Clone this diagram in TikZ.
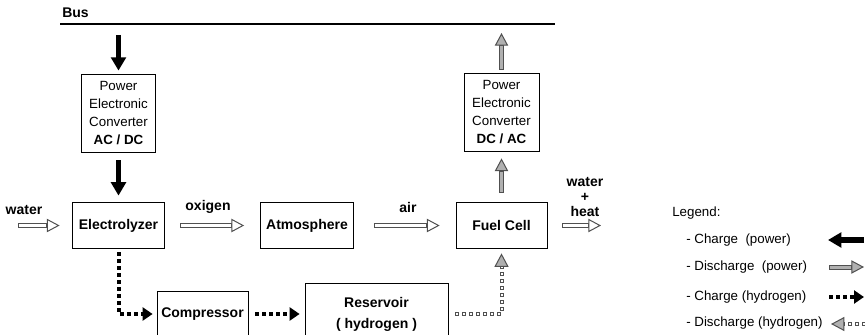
\documentclass[tikz,border=0pt]{standalone}
\usepackage{fontspec}
\setmainfont{Liberation Sans}
\usetikzlibrary{arrows.meta}
\definecolor{grisclaro}{HTML}{B0B0B0}
\definecolor{grisborde}{HTML}{505050}

\begin{document}
\begin{tikzpicture}
  [x=0.75pt,y=-0.75pt,
   caja/.style={draw=black,line width=0.6pt,align=center,inner sep=0pt,
     font=\fontsize{10}{13.5}\selectfont},
   rotulo/.style={font=\fontsize{10.5}{12}\selectfont\bfseries,inner sep=0pt},
   texto/.style={font=\fontsize{10}{12}\selectfont,inner sep=0pt,anchor=west},
   carga/.style={line width=4pt,-{Triangle[width=11pt,length=10pt]}},
   descarga/.style n args={3}{draw=grisborde,line width=3.75pt,
     shorten <=#2,shorten >=#3,
     -{Triangle[width=10pt,length=9.5pt,fill=#1,line width=0.75pt]},
     postaction={draw=#1,-,line width=2.25pt,shorten <=#2+0.75pt,shorten >=#3+10pt}},
   cargah/.style={line width=3pt,dash pattern=on 3pt off 2.25pt,
     -{Triangle[width=9.75pt,length=7.5pt]}},
   descargah/.style 2 args={draw=grisborde,line width=3pt,dash pattern=on 3pt off 2.25pt,
     shorten <=#1,shorten >=#2,
     -{Triangle[width=10.5pt,length=10pt,fill=grisclaro,line width=0.75pt]},
     postaction={draw=white,-,line width=1.5pt,
       dash pattern=on 0pt off 0.75pt on 1.5pt off 3pt,shorten <=#1,shorten >=#2+10pt}}]

  \useasboundingbox (0,0) rectangle (865,335);

  % Bus
  \coordinate (busI) at (60,24);
  \coordinate (busD) at (555,24);
  \draw[line width=1.5pt] (busI) -- (busD);
  \node[rotulo,anchor=base west] (bus) at (62,18) {Bus};

  % Convertidores
  \node[caja,minimum width=55.5pt,minimum height=58.5pt] (conv1) at (118.5,113)
    {Power\\Electronic\\Converter\\\textbf{AC / DC}};
  \node[caja,minimum width=56.25pt,minimum height=58.5pt] (conv2) at (501.5,112)
    {Power\\Electronic\\Converter\\\textbf{DC / AC}};

  % Fila central
  \node[caja,rotulo,minimum width=69pt,minimum height=34.5pt] (elec) at (118.5,225.5) {Electrolyzer};
  \node[caja,rotulo,minimum width=69.75pt,minimum height=34.5pt] (atm) at (307,225.5) {Atmosphere};
  \node[caja,rotulo,minimum width=68.25pt,minimum height=34.5pt] (fc) at (501.5,225.5) {Fuel Cell};

  % Fila inferior
  \node[caja,rotulo,minimum width=68.25pt,minimum height=34.5pt] (comp) at (202.5,314) {Compressor};
  \node[caja,rotulo,minimum width=107.25pt,minimum height=46.5pt,
    font=\fontsize{10.5}{15.75}\selectfont\bfseries] (res) at (376.5,314) {Reservoir\\( hydrogen )};

  % Flechas de potencia
  \coordinate (busA) at (118.5,35);
  \coordinate (busB) at (501.5,33);
  \draw[carga,shorten >=2.25pt] (busA) -- (conv1);
  \draw[carga,shorten <=6pt,shorten >=4.9pt] (conv1) -- (elec);
  \draw[descarga={grisclaro}{7.1pt}{5.25pt}] (fc) -- (conv2);
  \draw[descarga={grisclaro}{2.25pt}{0pt}] (conv2) -- (busB);

  % Flujos de materia
  \coordinate (aguaE) at (18,225.5);
  \coordinate (aguaS) at (601,225.5);
  \draw[descarga={white}{0pt}{9.4pt}] (aguaE) -- (elec);
  \draw[descarga={white}{11.6pt}{12pt}] (elec) -- (atm);
  \draw[descarga={white}{15pt}{12pt}] (atm) -- (fc);
  \draw[descarga={white}{11.25pt}{0pt}] (fc) -- (aguaS);
  \node[rotulo] (lagua) at (24,210) {water};
  \node[rotulo] (loxi) at (208,207) {oxigen};
  \node[rotulo] (laire) at (408,207) {air};
  \node[rotulo,align=center,font=\fontsize{10.5}{11}\selectfont\bfseries] (lsal) at (585,197)
    {water\\+\\heat};

  % Hidrogeno
  \draw[cargah,shorten <=2.6pt,shorten >=3pt] (elec) |- (comp);
  \draw[cargah,shorten <=5.25pt,shorten >=3.75pt] (comp) -- (res);
  \draw[descargah={5.25pt}{3.4pt}] (res) -| (fc);

  % Leyenda
  \node[texto] (ley) at (672,213) {Legend:};
  \node[texto] (ley1) at (686,240) {- Charge\ \ (power)};
  \node[texto] (ley2) at (686,267) {- Discharge\ \ (power)};
  \node[texto] (ley3) at (686,297) {- Charge (hydrogen)};
  \node[texto] (ley4) at (686,323) {- Discharge (hydrogen)};
  \coordinate (lc1) at (864,240);
  \coordinate (lc2) at (828,240);
  \coordinate (ld1) at (829,267);
  \coordinate (ld2) at (864,267);
  \coordinate (lh1) at (829,297);
  \coordinate (lh2) at (864,297);
  \coordinate (lk1) at (866,324);
  \coordinate (lk2) at (831,324);
  \draw[carga] (lc1) -- (lc2);
  \draw[descarga={grisclaro}{0pt}{0pt}] (ld1) -- (ld2);
  \draw[cargah] (lh1) -- (lh2);
  \draw[descargah={0pt}{0pt}] (lk1) -- (lk2);

\end{tikzpicture}
\end{document}
